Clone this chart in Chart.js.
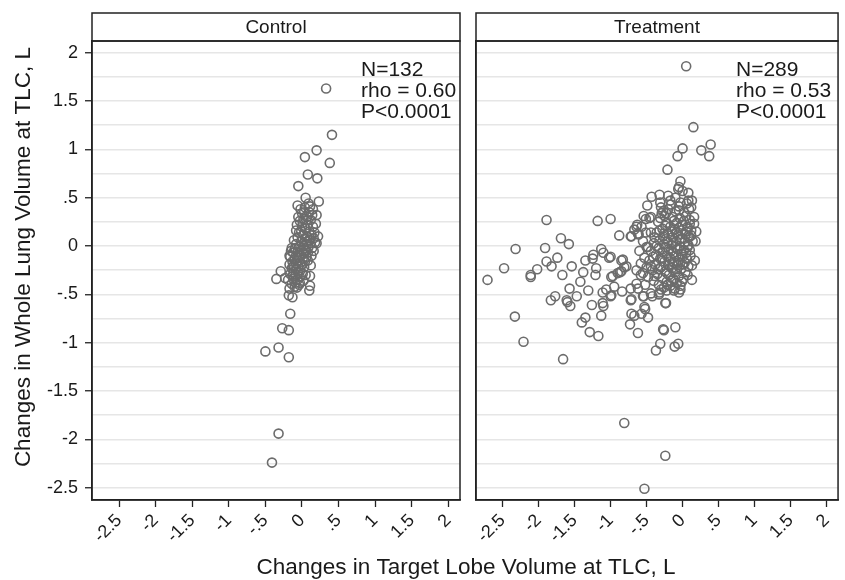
<!DOCTYPE html>
<html>
<head>
<meta charset="utf-8">
<script src="https://cdn.jsdelivr.net/npm/chart.js@4.4.0/dist/chart.umd.min.js"></script>
<style>
  html, body { margin: 0; padding: 0; background: #fff; }
  #wrap { position: relative; width: 845px; height: 580px; }
  #wrap canvas { position: absolute; top: 0; }
</style>
</head>
<body>
<div id="wrap">
  <canvas id="ctl" width="845" height="580" style="left:0"></canvas>
  <canvas id="trt" width="379" height="580" style="left:466px"></canvas>
</div>
<script>
// ── data ────────────────────────────────────────────────────────────────
const panelNames = ["Control", "Treatment"];
const controlStats = ["N=132", "rho = 0.60", "P<0.0001"];
const treatStats   = ["N=289", "rho = 0.53", "P<0.0001"];

const xTicks      = [-2.5, -2, -1.5, -1, -0.5, 0, 0.5, 1, 1.5, 2];
const xTickLabels = ["-2.5", "-2", "-1.5", "-1", "-.5", "0", ".5", "1", "1.5", "2"];
const yTicks      = [-2.5, -2, -1.5, -1, -0.5, 0, 0.5, 1, 1.5, 2];
const yTickLabels = ["-2.5", "-2", "-1.5", "-1", "-.5", "0", ".5", "1", "1.5", "2"];
const yGrid = [-2.5, -2.25, -2, -1.75, -1.5, -1.25, -1, -0.75, -0.5, -0.25, 0,
               0.25, 0.5, 0.75, 1, 1.25, 1.5, 1.75, 2];

// [target lobe change, whole lung change]
const controlPoints = [
  [0.33,1.63],[0.41,1.15],[0.20,0.99],[0.04,0.92],[0.38,0.86],[0.08,0.74],[0.21,0.70],[-0.05,0.62],
  [0.05,0.50],[0.23,0.46],[-0.06,0.42],[0.11,0.41],[0.20,0.32],[0.00,0.34],[0.10,0.35],[0.19,0.23],
  [-0.08,0.16],[0.22,0.10],[0.20,0.03],[-0.14,-0.02],[-0.16,-0.11],[-0.12,-0.21],[-0.29,-0.26],[-0.35,-0.34],
  [-0.23,-0.33],[0.11,-0.31],[0.10,-0.46],[0.11,-0.41],[-0.17,-0.44],[-0.18,-0.51],[-0.13,-0.53],[-0.16,-0.70],
  [-0.27,-0.85],[-0.18,-0.87],[-0.32,-1.05],[-0.50,-1.09],[-0.18,-1.15],[-0.32,-1.94],[-0.41,-2.24],[-0.03,-0.38],
  [-0.17,-0.10],
  [-0.02,0.38],[0.04,0.40],[0.07,0.30],[0.02,0.28],[0.12,0.27],[-0.03,0.26],[0.08,0.22],[0.15,0.20],
  [0.00,0.20],[0.05,0.18],[0.10,0.15],[-0.04,0.14],[0.13,0.12],[0.02,0.12],[0.07,0.10],[-0.06,0.09],
  [0.16,0.08],[0.04,0.07],[0.10,0.06],[-0.01,0.05],[0.12,0.03],[0.06,0.02],[-0.08,0.02],[0.02,0.00],
  [0.09,-0.01],[-0.04,-0.01],[0.14,-0.02],[-0.10,-0.03],[0.05,-0.04],[0.00,-0.05],[-0.06,-0.06],[0.08,-0.07],
  [-0.12,-0.07],[0.03,-0.08],[-0.02,-0.09],[-0.08,-0.10],[0.06,-0.11],[-0.04,-0.12],[0.01,-0.13],[-0.10,-0.14],
  [-0.06,-0.15],[0.04,-0.16],[-0.13,-0.16],[-0.02,-0.17],[-0.08,-0.18],[0.00,-0.19],[-0.11,-0.20],[-0.05,-0.21],
  [0.03,-0.22],[-0.14,-0.23],[-0.08,-0.24],[-0.02,-0.25],[-0.11,-0.27],[-0.05,-0.28],[0.01,-0.29],[-0.16,-0.29],
  [-0.09,-0.31],[-0.03,-0.32],[-0.12,-0.34],[-0.06,-0.35],[-0.19,-0.35],[-0.09,-0.38],[-0.14,-0.39],[-0.04,-0.40],
  [-0.10,-0.42],[-0.07,-0.43],[0.06,-0.05],[0.11,0.08],[0.17,0.14],[0.14,0.32],[0.03,0.35],[-0.07,0.22],
  [-0.09,-0.02],[0.08,-0.15],[0.05,-0.30],[0.13,-0.10],[-0.15,-0.05],[0.18,0.04],[0.01,0.24],[-0.05,0.30],
  [0.09,0.44],[0.15,0.38],[-0.11,0.06],[0.12,-0.20],[-0.01,0.15],[0.06,0.27],[-0.13,-0.31],[0.02,-0.36],
  [-0.17,-0.19],[0.07,0.05],[0.16,-0.05]
];

const treatPoints = [
  [0.05,1.86],[0.15,1.23],[0.00,1.01],[-0.07,0.93],[0.26,0.99],[0.39,1.05],[0.37,0.93],[-0.21,0.79],
  [-0.03,0.67],[-0.05,0.61],[-0.06,0.59],[0.00,0.57],[0.08,0.55],[0.08,0.47],[0.13,0.47],[0.06,0.44],
  [-0.43,0.51],[-0.32,0.53],[-0.31,0.45],[-0.49,0.42],[-0.17,0.47],[-0.03,0.45],[-0.05,0.37],
  [-1.89,0.27],[-1.18,0.26],[-1.00,0.28],[-1.69,0.08],[-1.58,0.02],[-2.32,-0.03],[-1.91,-0.02],[-2.48,-0.23],
  [-2.71,-0.35],[-2.11,-0.32],[-2.11,-0.30],[-2.02,-0.24],[-0.88,0.11],[-0.72,0.10],[-0.64,0.20],[-0.62,0.13],
  [-0.54,0.31],[-0.46,0.29],[-0.50,-0.01],[-1.74,-0.12],[-1.82,-0.21],[-1.89,-0.16],[-1.67,-0.30],[-1.54,-0.21],
  [-1.35,-0.15],[-1.25,-0.13],[-1.24,-0.09],[-1.13,-0.03],[-1.10,-0.07],[-1.02,-0.12],[-1.00,-0.11],[-1.20,-0.23],
  [-1.38,-0.27],[-1.42,-0.37],[-1.21,-0.30],[-0.85,-0.15],[-0.81,-0.22],[-0.87,-0.27],[-0.90,-0.28],[-0.85,-0.26],
  [-0.78,-0.21],[-0.97,-0.31],[-0.99,-0.32],[-0.95,-0.42],[-0.84,-0.47],[-1.06,-0.45],[-1.11,-0.48],[-0.99,-0.51],
  [-1.00,-0.52],[-1.11,-0.59],[-1.10,-0.62],[-1.26,-0.61],[-1.31,-0.46],[-1.47,-0.52],[-1.57,-0.44],[-1.61,-0.56],
  [-1.56,-0.62],[-1.60,-0.58],[-1.77,-0.52],[-1.83,-0.56],[-2.33,-0.73],[-1.35,-0.74],[-1.40,-0.79],[-1.13,-0.72],
  [-1.29,-0.89],[-1.17,-0.93],[-2.21,-0.99],[-1.66,-1.17],[-0.72,-0.44],[-0.71,-0.55],[-0.72,-0.56],[-0.71,-0.70],
  [-0.67,-0.72],[-0.57,-0.70],[-0.52,-0.65],[-0.48,-0.74],[-0.73,-0.81],[-0.62,-0.90],[-0.24,-0.59],[-0.27,-0.86],
  [-0.26,-0.87],[-0.10,-0.84],[-0.31,-1.01],[-0.37,-1.08],[-0.11,-1.04],[-0.06,-1.01],[-0.54,-0.52],[-0.42,-0.52],
  [-0.33,-0.50],[-0.05,-0.48],[-0.81,-1.83],[-0.24,-2.17],[-0.53,-2.51],
  [-0.51,0.28],[-0.44,0.30],[-0.29,0.34],[-0.23,0.34],[-0.63,0.22],[-0.67,0.17],[-0.71,0.10],[-0.61,0.12],
  [-0.51,0.14],[-0.44,0.14],[-0.39,0.09],[-0.48,-0.01],[0.16,0.30],[0.16,0.23],[0.19,0.15],[0.07,-0.01],
  [0.13,-0.20],[0.13,-0.35],[-0.83,-0.14],[-0.64,-0.25],[-0.58,-0.18],[-0.55,-0.28],[-0.64,-0.39],[-0.55,-0.52],
  [-0.44,-0.49],[-0.32,-0.48],[-0.22,-0.46],[-0.12,-0.46],[-0.03,-0.45],[-0.23,-0.59],[-0.53,-0.63],
  [-0.30,0.40],[-0.20,0.38],[-0.10,0.36],[0.02,0.35],[-0.25,0.31],[-0.14,0.30],[-0.04,0.29],[0.05,0.31],
  [0.10,0.27],[-0.34,0.25],[-0.22,0.24],[-0.08,0.24],[0.00,0.22],[-0.17,0.20],[0.07,0.20],[-0.28,0.18],
  [-0.11,0.17],[-0.02,0.16],[0.12,0.16],[-0.36,0.14],[-0.20,0.13],[-0.06,0.12],[0.04,0.12],[-0.27,0.10],
  [-0.14,0.09],[0.09,0.09],[-0.01,0.08],[-0.32,0.06],[-0.21,0.05],[-0.09,0.05],[0.03,0.04],[0.14,0.05],
  [-0.40,0.03],[-0.26,0.02],[-0.15,0.01],[-0.04,0.00],[0.08,0.01],[-0.33,-0.02],[-0.19,-0.03],[-0.07,-0.03],
  [0.02,-0.04],[-0.44,-0.05],[-0.28,-0.06],[-0.13,-0.07],[0.05,-0.07],[-0.37,-0.09],[-0.22,-0.10],[-0.09,-0.10],
  [0.00,-0.11],[0.11,-0.10],[-0.31,-0.13],[-0.17,-0.13],[-0.04,-0.14],[-0.46,-0.15],[-0.25,-0.16],[-0.12,-0.17],
  [0.03,-0.17],[-0.38,-0.19],[-0.20,-0.20],[-0.07,-0.20],[0.08,-0.21],[-0.30,-0.22],[-0.15,-0.23],[-0.02,-0.24],
  [-0.42,-0.25],[-0.24,-0.26],[-0.10,-0.27],[0.04,-0.27],[-0.35,-0.29],[-0.19,-0.30],[-0.05,-0.31],[-0.48,-0.32],
  [-0.28,-0.33],[-0.13,-0.34],[0.01,-0.34],[-0.40,-0.36],[-0.22,-0.37],[-0.08,-0.38],[-0.33,-0.40],[-0.17,-0.41],
  [-0.03,-0.41],[-0.26,-0.43],[-0.11,-0.44],
  [-0.16,0.43],[-0.05,0.41],[-0.27,0.36],[0.09,0.38],[-0.12,0.26],[-0.31,0.29],[0.02,0.26],[-0.24,0.21],
  [-0.05,0.19],[0.10,0.23],[-0.32,0.16],[-0.15,0.15],[0.05,0.15],[-0.24,0.07],[-0.04,0.07],[0.12,0.11],
  [-0.36,0.00],[-0.10,-0.01],[0.10,-0.04],[-0.24,-0.01],[-0.41,-0.11],[-0.16,-0.05],[0.06,-0.13],[-0.28,-0.12],
  [-0.02,-0.08],[-0.34,-0.24],[-0.14,-0.19],[0.00,-0.19],[-0.44,-0.21],[-0.22,-0.28],[-0.08,-0.24],[0.07,-0.30],
  [-0.39,-0.31],[-0.16,-0.36],[-0.01,-0.37],[-0.30,-0.45],[-0.21,-0.40],[-0.52,-0.40],[-0.58,-0.30],[-0.60,-0.05],
  [-0.55,0.05],[-0.53,-0.12],[-0.50,-0.22],[-0.62,-0.44],[-0.57,0.20],[-0.20,0.52],[-0.10,0.50],[0.12,0.40],
  [0.18,0.05],[0.17,-0.15],[-0.13,0.03],[-0.18,-0.16],[-0.06,-0.17],[-0.26,0.13],[-0.09,0.14]
];

// ── style ───────────────────────────────────────────────────────────────
const FONT   = "'Liberation Sans', Arial, Helvetica, sans-serif";
const INK    = "#1a1a1a";
const AXIS   = "#222";
const GRID   = "#e6e6e6";
const MARK   = "#6c6c6c";
const X_MIN = -2.87, X_MAX = 2.16;
const Y_MIN = -2.627, Y_MAX = 2.121;
const STRIP_TOP = 13;

Chart.defaults.font.family = FONT;
Chart.defaults.color = INK;

const isMajorY = v => yTicks.includes(v);

// frame, header strip, stats text, axis titles
const framePlugin = {
  id: "frame",
  afterDraw(chart, args, o) {
    const { ctx, chartArea: a } = chart;
    ctx.save();
    ctx.strokeStyle = AXIS;
    ctx.lineWidth = 1.5;
    ctx.strokeRect(a.left, a.top, a.right - a.left, a.bottom - a.top);
    ctx.strokeRect(a.left, STRIP_TOP, a.right - a.left, a.top - STRIP_TOP);

    ctx.fillStyle = INK;
    ctx.font = `19px ${FONT}`;
    ctx.textAlign = "center";
    ctx.textBaseline = "middle";
    ctx.fillText(o.name, (a.left + a.right) / 2, (STRIP_TOP + a.top) / 2 + 1);

    ctx.font = `21px ${FONT}`;
    ctx.textAlign = "left";
    o.stats.forEach((s, i) => ctx.fillText(s, a.left + o.statsX, 70 + i * 21));

    if (o.titles) {
      ctx.font = `22.5px ${FONT}`;
      ctx.textAlign = "center";
      ctx.fillText("Changes in Target Lobe Volume at TLC, L", 466, 568);
      ctx.translate(24, 257);
      ctx.rotate(-Math.PI / 2);
      ctx.fillText("Changes in Whole Lung Volume at TLC, L", 0, 0);
    }
    ctx.restore();
  },
};

function panel(canvas, pts, o) {
  return new Chart(canvas, {
    type: "scatter",
    data: {
      datasets: [{
        data: pts.map(([x, y]) => ({ x, y })),
        pointStyle: "circle",
        pointRadius: 4.5,
        pointHoverRadius: 4.5,
        borderWidth: 1.6,
        borderColor: MARK,
        backgroundColor: "rgba(0,0,0,0)",
      }],
    },
    options: {
      responsive: false, animation: false, events: [],
      layout: { padding: { top: 41, left: 0, right: o.padRight, bottom: 0 } },
      plugins: { legend: { display: false }, tooltip: { enabled: false }, frame: o },
      scales: {
        x: {
          type: "linear", min: X_MIN, max: X_MAX,
          afterBuildTicks: s => { s.ticks = xTicks.map(v => ({ value: v })); },
          afterFit: s => { s.height = 80; },
          grid: { drawOnChartArea: false, drawTicks: true, tickLength: 7, tickColor: AXIS, tickWidth: 1.3 },
          border: { display: true, color: AXIS, width: 1.5 },
          ticks: {
            autoSkip: false, maxRotation: 45, minRotation: 45, padding: 3,
            color: INK, font: { size: 18 },
            callback: v => xTickLabels[xTicks.indexOf(v)] ?? "",
          },
        },
        y: {
          type: "linear", min: Y_MIN, max: Y_MAX,
          afterBuildTicks: s => { s.ticks = yGrid.map(v => ({ value: v })); },
          afterFit: s => { s.width = o.yWidth; },
          grid: {
            color: GRID, lineWidth: 1.5,
            drawTicks: o.yLabels, tickLength: 7, tickWidth: 1.3,
            tickColor: c => (c.tick && isMajorY(c.tick.value)) ? AXIS : "rgba(0,0,0,0)",
          },
          border: { display: true, color: AXIS, width: 1.5 },
          ticks: {
            display: o.yLabels, autoSkip: false, padding: 7,
            color: INK, font: { size: 18 },
            callback: v => isMajorY(v) ? yTickLabels[yTicks.indexOf(v)] : "",
          },
        },
      },
    },
    plugins: [framePlugin],
  });
}

panel(document.getElementById("ctl"), controlPoints, {
  name: panelNames[0], stats: controlStats, statsX: 269,
  padRight: 385, yWidth: 92, yLabels: true, titles: true,
});
panel(document.getElementById("trt"), treatPoints, {
  name: panelNames[1], stats: treatStats, statsX: 260,
  padRight: 2, yWidth: 10, yLabels: false, titles: false,
});
</script>
</body>
</html>
